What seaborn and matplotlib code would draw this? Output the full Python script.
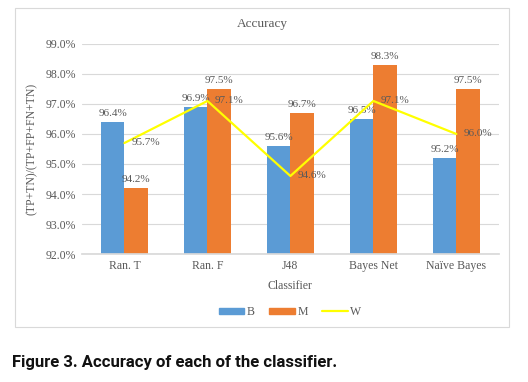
import pandas as pd
import matplotlib
matplotlib.use("Agg")
import matplotlib.pyplot as plt
import seaborn as sns
from matplotlib.patches import Rectangle, Patch
from matplotlib.lines import Line2D
from matplotlib.ticker import FuncFormatter

# === Data ===
classifiers = ["Ran. T", "Ran. F", "J48", "Bayes Net", "Naïve Bayes"]
b_vals = [96.4, 96.9, 95.6, 96.5, 95.2]
m_vals = [94.2, 97.5, 96.7, 98.3, 97.5]
w_vals = [95.7, 97.1, 94.6, 97.1, 96.0]

blue = "#5B9BD5"
orange = "#ED7D31"
yellow = "#FFFF00"
grey = "#595959"

df = pd.DataFrame({
    "Classifier": classifiers * 2,
    "Accuracy": b_vals + m_vals,
    "Class": ["B"] * 5 + ["M"] * 5,
})

sns.set_theme(style="white")
plt.rcParams["font.family"] = ["Liberation Serif", "DejaVu Serif"]

fig = plt.figure(figsize=(5.28, 3.82), dpi=100)
ax = fig.add_axes([0.155, 0.335, 0.79, 0.55])

# chart frame
fig.patches.append(Rectangle((15 / 528, 1 - 327 / 382), 494 / 528, 319 / 382,
                             transform=fig.transFigure, fill=False,
                             edgecolor="#D9D9D9", linewidth=0.8))

sns.barplot(data=df, x="Classifier", y="Accuracy", hue="Class",
            palette=[blue, orange], width=0.57, ax=ax, legend=False,
            saturation=1, linewidth=0, edgecolor="none")
for cont in ax.containers:
    ax.bar_label(cont, fmt="%.1f%%", padding=3, fontsize=8, color=grey)

xs = list(range(len(classifiers)))
ax.plot(xs, w_vals, color=yellow, linewidth=1.6, zorder=3)
for x, v in zip(xs, w_vals):
    ax.annotate(f"{v:.1f}%", (x, v), xytext=(5, 0), textcoords="offset points",
                ha="left", va="center", fontsize=8, color=grey)

ax.set_ylim(92, 99)
ax.set_yticks([92, 93, 94, 95, 96, 97, 98, 99])
ax.yaxis.set_major_formatter(FuncFormatter(lambda v, p: f"{v:.1f}%"))
ax.grid(axis="y", color="#D9D9D9", linewidth=0.8)
ax.set_axisbelow(True)
for s in ["top", "right", "left"]:
    ax.spines[s].set_visible(False)
ax.spines["bottom"].set_color("#D9D9D9")
ax.tick_params(axis="both", length=0, labelsize=8.5, labelcolor=grey, pad=4)
ax.set_xlabel("Classifier", fontsize=8.5, color=grey, labelpad=6)
ax.set_ylabel("(TP+TN)/(TP+FP+FN+TN)", fontsize=8.5, color=grey, labelpad=6)

fig.text(262 / 528, 1 - 24 / 382, "Accuracy", ha="center", va="center",
         fontsize=9.5, color=grey)

handles = [Patch(color=blue, label="B"), Patch(color=orange, label="M"),
           Line2D([0], [0], color=yellow, linewidth=1.6, label="W")]
leg = fig.legend(handles=handles, loc="center", ncol=3,
                 bbox_to_anchor=(290 / 528, 1 - 312 / 382), frameon=False,
                 fontsize=8.5, handlelength=2.2, handleheight=0.45,
                 handletextpad=0.2, columnspacing=1.2)
for t in leg.get_texts():
    t.set_color(grey)

fig.text(12 / 528, 1 - 362 / 382, "Figure 3. Accuracy of each of the classifier.",
         ha="left", va="center", fontsize=12, fontweight="bold",
         family=["Liberation Sans Narrow", "Roboto", "DejaVu Sans"], color="#111111")

fig.savefig("out.png", dpi=100)
